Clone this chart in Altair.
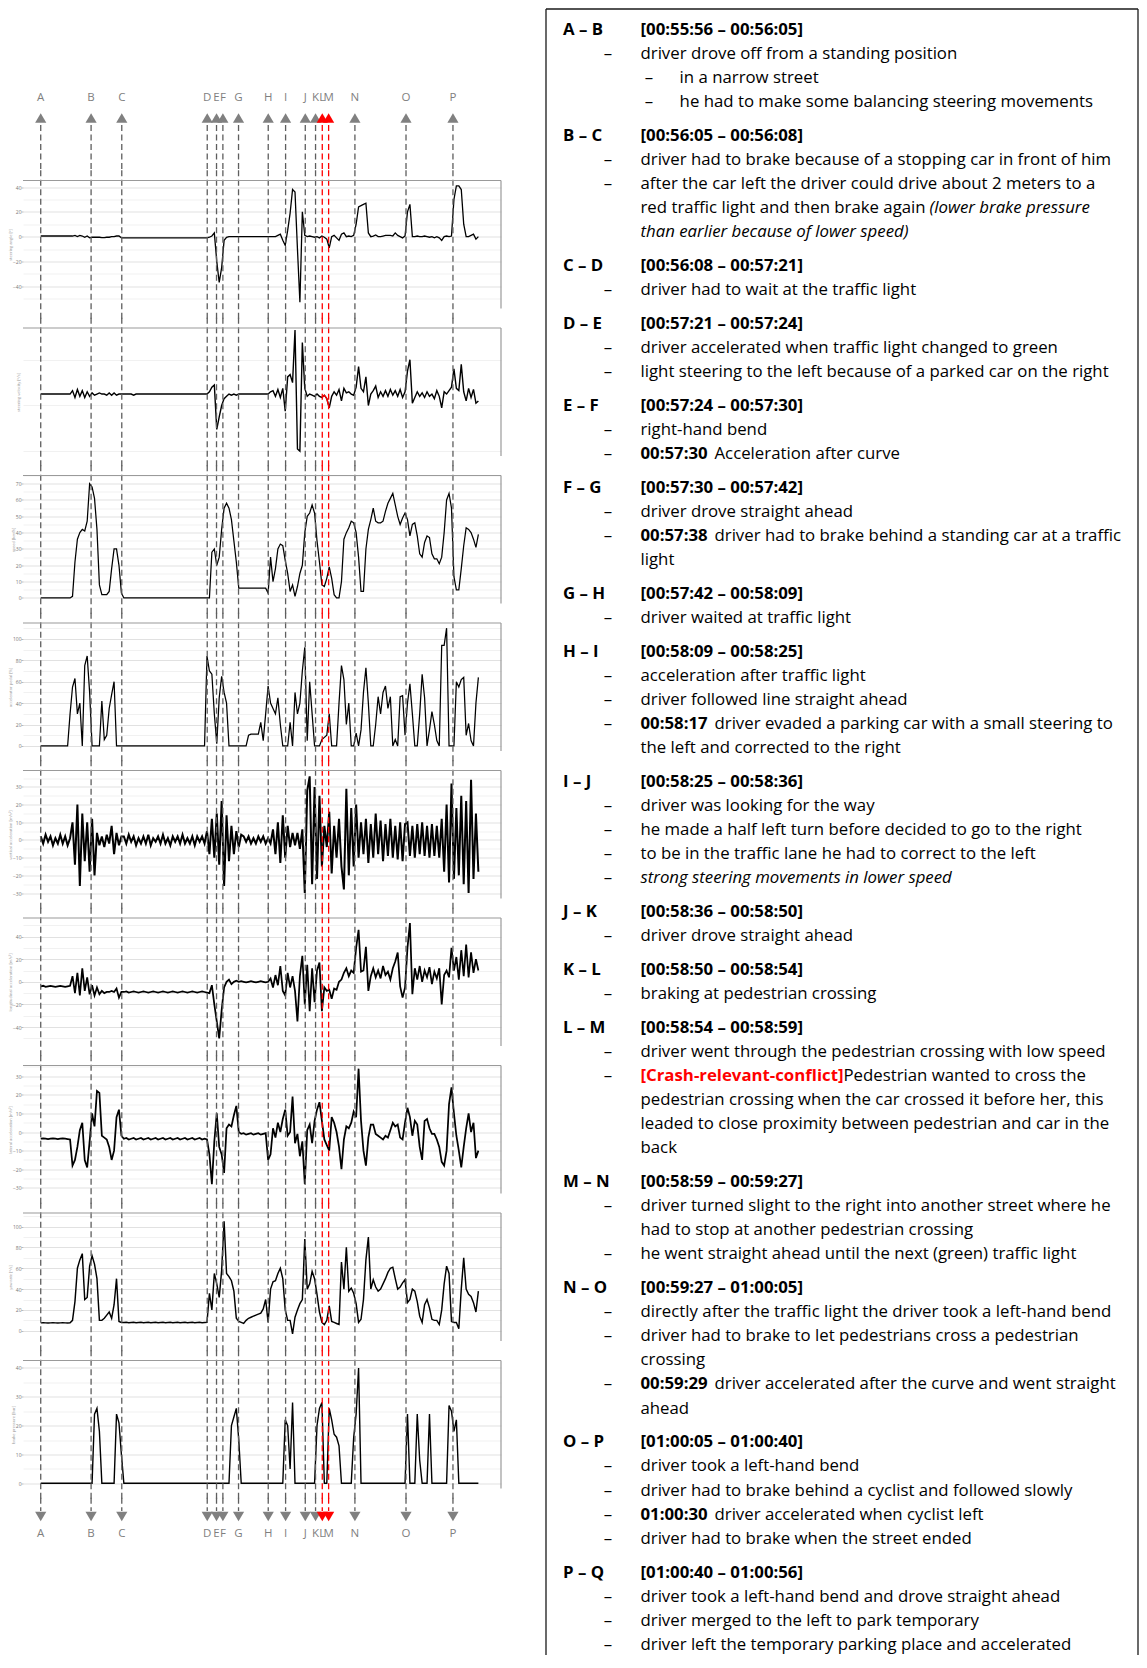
import math
import re
import altair as alt
import pandas as pd

# ------------------------------------------------------------------ data
N_SAMPLES = 180
X_FIRST, X_STEP = 1.5, 2.0            # distance of the samples [m]
X_POS = [X_FIRST + X_STEP * i for i in range(N_SAMPLES)]

MARK_LABELS = ["A", "B", "C", "D", "E", "F", "G", "H", "I", "J", "K", "L", "M", "N", "O", "P"]
MARK_POS = [1.5, 42.7, 67.8, 137.7, 145.3, 150.5, 163.3, 187.6, 201.8, 217.9,
            226.3, 231.8, 237.0, 258.5, 300.3, 338.7]
MARK_RED = ["L", "M"]

X_DOMAIN = [-13, 378]
X_TICKS = [25, 50, 75, 100, 125, 150, 175, 200, 225, 250, 275, 300, 325, 350, 375]

P1 = [0.5, 0.5, 0.5, 0.5, 0.5, 0.5, 0.5, 0.5, 0.5, 0.5, 0.5, 0.5, 0.5, 0.5, 1, 0, 1, 0.5, -0.5, 0.5,
      -1, -0.5, -0.5, -0.5, -0.5, -0.8, -0.8, -0.5, -0.5, 0, 0, 0.5, 0.5, -1, -1, -1, -1, -1, -1, -1,
      -1, -1, -1, -1, -1, -1, -1, -1, -1, -1, -1, -1, -1, -1, -1, -1, -1, -1, -1, -1,
      -1, -1, -1, -1, -1, -1, -1, -1, -1, -0.5, 0.5, 3, -20, -37, -25, -3, -0.5, 0, 0, 0,
      0, 0, 0, 0, 0, 0, 0, 0, 0, 0, 0, 0, 0, 0, 0, 0, 0, 1, 2, -3,
      -7, 5, 19, 38, 36, -10, -53, 20, 1, 0, 0.5, 0, -0.5, 0, -1, 0.5, -0.5, -2, -9, 0,
      1, -1, -3, 2, 3, 0, 0.5, 0, 1, 10, 24, 25, 26, 27, 3, 0, 0.5, 1.3, 0, 0,
      0.5, 1, 1, 1, 0.5, 3, 1, 0, -1, 0.5, 20, 26, 0, 0, 0.5, 0, 0, 0.5, 0, -0.5,
      0, -1, 0, -1, -3, 0, 0.5, 0, 0.5, 30, 41, 41, 38, 10, 0, 0, 1, 2, -2, 0]

P2 = [0, 0, 0, 0, 0, 0, 0, 0, 0, 0, 0, 0, 0, 3, -3, 4, -2, 3, -3, 2,
      -2, 1, -1, 0, 1, 0, 0, -1, 1, -1, 1, -1, 0, 0, 0, 0, 0, 0, -1, 0,
      0, 0, 0, 0, 0, 0, 0, 0, 0, 0, 0, 0, 0, 0, 0, 0, 0, 0, 0, 0,
      0, 0, 0, 0, 0, 0, 0, 0, 0, 2, 6, 8, -31, -20, -10, -4, -2, 0, -1, 0,
      -1, 0, 0, 0, 0, 0, 0, 0, 0, 0, 0, 0, 0, 0, 2, 3, -2, 4, -3, 5,
      -15, 15, 17, 10, 56, -48, -50, 45, 5, -2, 0, -1, -2, 0, -2, -3, -1, -4, -12, -2,
      2, -1, 4, -6, 5, 1, 2, 0, -1, 6, 24, 5, 2, 15, -10, 0, 3, 7, -3, 2,
      -2, 3, -2, 4, -1, 3, -2, 4, -3, 2, 20, 30, -8, -3, 2, -2, 1, -3, 2, -2,
      0, -4, 3, -2, -12, 2, 0, 3, 6, 22, 5, 3, 26, 2, -6, 5, -3, 4, -8, -6]

P3 = [0, 0, 0, 0, 0, 0, 0, 0, 0, 0, 0, 0, 0, 1, 22, 36, 40, 42, 41, 47,
      70, 68, 61, 42, 8, 2, 2, 2, 4, 18, 30, 30, 20, 3, 0, 0, 0, 0, 0, 0,
      0, 0, 0, 0, 0, 0, 0, 0, 0, 0, 0, 0, 0, 0, 0, 0, 0, 0, 0, 0,
      0, 0, 0, 0, 0, 0, 0, 0, 0, 0, 28, 30, 20, 25, 42, 55, 58, 55, 48, 35,
      22, 6, 6, 6, 6, 6, 6, 6, 6, 6, 6, 6, 6, 3, 25, 10, 18, 30, 33, 32,
      23, 15, 4, 8, 1, 7, 15, 20, 40, 50, 52, 57, 52, 35, 22, 8, 7, 12, 19, 12,
      2, 0, 0, 10, 36, 40, 43, 47, 46, 40, 25, 4, 4, 30, 42, 48, 55, 47, 46, 46,
      47, 53, 58, 61, 64, 57, 50, 45, 49, 52, 48, 38, 45, 46, 38, 27, 25, 34, 38, 37,
      27, 24, 24, 21, 25, 40, 60, 64, 55, 13, 5, 5, 18, 32, 43, 42, 40, 36, 31, 39]

P4 = [0, 0, 0, 0, 0, 0, 0, 0, 0, 0, 0, 0, 30, 55, 63, 30, 40, 0, 75, 84,
      50, 0, 0, 0, 0, 42, 6, 10, 35, 48, 60, 0, 0, 0, 0, 0, 0, 0, 0, 0,
      0, 0, 0, 0, 0, 0, 0, 0, 0, 0, 0, 0, 0, 0, 0, 0, 0, 0, 0, 0,
      0, 0, 0, 0, 0, 0, 0, 0, 84, 70, 67, 30, 2, 45, 65, 50, 40, 0, 0, 0,
      0, 0, 0, 0, 0, 10, 11, 11, 11, 11, 22, 5, 30, 56, 40, 35, 30, 45, 20, 0,
      0, 0, 22, 0, 50, 30, 40, 70, 92, 5, 60, 30, 0, 0, 0, 6, 8, 10, 30, 0,
      0, 0, 40, 75, 62, 20, 40, 0, 0, 12, 0, 15, 50, 73, 40, 0, 0, 20, 46, 30,
      50, 56, 35, 46, 0, 6, 0, 46, 47, 10, 40, 58, 30, 0, 0, 30, 67, 45, 0, 15,
      32, 20, 5, 0, 94, 94, 110, 0, 0, 0, 60, 55, 62, 64, 10, 21, 5, 0, 40, 64]

P5 = [2, -2, 3, -1, 2, -3, 1, -2, 3, -2, 2, -3, 1,
      10, -14, 20, -26, 15, -12, 10, -18, 12, -20,
      4, -3, 2, -4, 3, -2, 8, -8, 4, -3, 2,
      2, -2, 3, -1, 2, -3, 1, -2, 2, -2, 3, -3, 1, -1, 2, -2, 3, -2, 1, -3, 2, -1, 2, -2, 3, -2, 1, -2, 2, -3, 2, -1, 2, -2,
      5, -8, 12, -10, 15, -14, 22, -26, 14, -12, 8, -8, 5, -4, 3,
      2, -1, 2, -2, 1, -2, 2, -1, 2, -2, 1, -2,
      6, -8, 10, -13, 14, -10, 8,
      -4, 4, -3, 4, -5, 6,
      -30, 28, 36, -25, 30, -22, 25, -15, 8,
      -4, 16, -19,
      8, -10, 12, -15, -28, 29, -20, 18, -15, 20, -10,
      10, -8, 12, -13, 9, -10, 15, -8, 11, -12, 9, -9, 12, -10, 8, -11, 10, -12, 9,
      10, -9, 8, -10, 9, -8, 10, -9, 8, -10, 9, -9, 8, -10, 12,
      -18, 20, -24, 32, -22, 18, -20, 25,
      -25, 22, -30, 34, -22, 15, -18]

P6 = [-4, -3.5, -4.5, -4, -3.5, -4, -4.5, -4, -3.5, -4, -4.5, -4, -3.5,
      5, -10, 8, -12, 12, -8, 4, -11,
      -3, -12, -5, -11,
      -8, -10, -9, -9, -8, -9, -6, -14, -9,
      -9, -8.5, -9.5, -9, -8.5, -9, -9.5, -9, -8.5, -9, -9.5, -9, -8.5, -9, -9.5, -9, -8.5, -9,
      -9.5, -9, -8.5, -9, -9.5, -9, -8.5, -9, -9.5, -9, -8.5, -9, -9.5, -9, -8.5, -9, -9.5,
      -10, -3, -20, -35, -50, -25, -5, 0, 2, -2, 0, 1,
      0, 0.5, 0, -0.5, 0, 0.5, 0, -0.5, 0, 0.5, 0, -0.5,
      0, 3, -5, 6, -3, 14, -8, -12, 8, -5, 5, -8, -35, 5, 23,
      -20, 15, -26, 12, -18, 10, 17, -26, -5, -8,
      -7, -15, -6, -7,
      0, 2, 8, 12, 5, 10, 8,
      30, 46, 9, 10, 31, -8, 5,
      12, 4, 10, 3, 14, 6, 9, 2, 12, 18, 26, -4, -14, -5,
      30, 52, -11,
      12, 2, 14, 0, 10, 4, 13, -2, 9, 3, 12,
      -20, 6, 10, 4,
      30, 10, 22, 2, 28, 5, 33, 4, 26, 8, 20, 10]

P7 = [-3.6, -3.4, -3.6, -3.8, -3.6, -3.4, -3.6, -3.8, -3.6, -3.4, -3.6, -3.8,
      -4, -18, -15, -8, 1, 5, -15, -19, -5, 10, 3, 22, 21, -2, -3, -4, -8, -15, -10, 8, 12, -2,
      -3.6, -3.2, -4, -3.6, -3.2, -4, -3.6, -3.2, -4, -3.6, -3.2, -4, -3.6, -3.2, -4, -3.6, -3.2,
      -4, -3.6, -3.2, -4, -3.6, -3.2, -4, -3.6, -3.2, -4, -3.6, -3.2, -4, -3.6, -3.2, -4, -3.6,
      -4, -12, -28, -5, 10, -8, -12, -22, 2, 4, 3, 9, 14, 0,
      -1, -0.6, -1.4, -1, -0.6, -1.4, -1, -0.6, -1.4, -1, -0.6,
      -15, -12, 2, -3, 5, 0, 7, 12, -2, 0,
      19, -6, -1, -13, -5, -28, 1, 4, -6, 6,
      12, 16, 6, -4, -7, -10, 8, 5, 0, -8,
      -20, -4, 3, 2, 5, 11, 8, 34, 6, -10,
      -18, -3, 4, 4, -1, -2, -3, -4, -2, -3,
      1, 5, 3, 4, -3, -4, 5, 13, 8, -2,
      6, 4, -8, -15, 6, 7, 2, -1, -1, -4,
      -8, -16, -18, -10, 15, 24, 10, -2, -10, -19,
      -8, 2, 10, 0, 5, -14, -10]

P8 = [7.6, 7.8, 7.6, 7.4, 7.6, 7.8, 7.6, 7.4, 7.6, 7.8, 7.6, 7.4, 7.6,
      10, 28, 60, 68, 74, 30, 32, 62, 72, 64, 50, 10, 10, 12, 15, 18, 12, 25, 50, 9, 8,
      8, 8.2, 7.8, 8, 8.2, 7.8, 8, 8.2, 7.8, 8, 8.2, 7.8, 8, 8.2, 7.8, 8, 8.2, 7.8,
      8, 8.2, 7.8, 8, 8.2, 7.8, 8, 8.2, 7.8, 8, 8.2, 7.8, 8, 8.2, 7.8, 8, 8.2,
      36, 20, 55, 45, 32, 58, 105, 55, 52, 48,
      38, 12, 9, 8, 7, 10, 12, 13, 14, 15,
      16, 17, 21, 30, 8, 40, 47, 48, 55, 60,
      50, 20, 10, 10, -3, 13, 20, 26, 30, 88,
      40, 45, 57, 50, 35, 18, 8, 6, 10, 24,
      9, 8, 7, 6, 66, 40, 80, 38, 41, 36,
      26, 8, 11, 30, 68, 90, 40, 49, 42, 38,
      40, 45, 50, 56, 60, 61, 50, 40, 42, 46,
      49, 27, 30, 40, 38, 28, 14, 8, 25, 30,
      22, 11, 10, 10, 6, 20, 45, 62, 55, 9,
      8, 8, 2, 40, 70, 40, 35, 33, 27, 18,
      38]

P9 = [0, 0, 0, 0, 0, 0, 0, 0, 0, 0, 0, 0, 0, 0, 0, 0, 0, 0, 0, 0,
      0, 0, 24, 26, 18, 0, 0, 0, 0, 0, 0, 24, 21, 10, 0, 0, 0, 0, 0, 0,
      0, 0, 0, 0, 0, 0, 0, 0, 0, 0, 0, 0, 0, 0, 0, 0, 0, 0, 0, 0,
      0, 0, 0, 0, 0, 0, 0, 0, 0, 0, 0, 0, 0, 0, 0, 0, 0, 0, 20, 23,
      26, 15, 0, 0, 0, 0, 0, 0, 0, 0, 0, 0, 0, 0, 0, 0, 0, 0, 0, 0,
      22, 20, 5, 28, 0, 0, 0, 0, 0, 0, 0, 0, 0, 20, 26, 28, 0, 0, 26, 22,
      17, 16, 13, 0, 0, 0, 0, 0, 16, 24, 40, 0, 0, 0, 0, 0, 0, 0, 0, 0,
      0, 0, 0, 0, 0, 0, 0, 0, 0, 0, 24, 0, 0, 0, 24, 8, 0, 0, 0, 24,
      0, 0, 0, 0, 0, 0, 0, 27, 25, 18, 22, 0, 0, 0, 0, 0, 0, 0, 0, 0]

PANEL_SERIES = [P1, P2, P3, P4, P5, P6, P7, P8, P9]
PANEL_TITLES = ["steering angle [°]", "steering velocity [°/s]", "speed [km/h]",
                "accelerator pedal [%]", "vertical acceleration [m/s²]",
                "longitudinal acceleration [m/s²]", "lateral acceleration [m/s²]",
                "yaw rate [°/s]", "brake pressure [bar]"]
PANEL_DOMAINS = [[-58, 45.3], [-54.2, 57.8], [-3.4, 75], [-4.7, 114.8], [-33.1, 39.3],
                 [-56.8, 56.5], [-33, 35.7], [-9.8, 113], [-1.8, 42.6]]
PANEL_STEPS = [20, 20, 10, 20, 10, 20, 10, 20, 10]
HIGHLIGHT_PANEL, HIGHLIGHT_FROM, HIGHLIGHT_TO = 1, 115, 118   # red part between K and M

SECTIONS = [
    ("A – B", "[00:55:56 – 00:56:05]", [
        (1, ["driver drove off from a standing position"]),
        (2, ["in a narrow street"]),
        (2, ["he had to make some balancing steering movements"]),
    ]),
    ("B – C", "[00:56:05 – 00:56:08]", [
        (1, ["driver had to brake because of a stopping car in front of him"]),
        (1, ["after the car left the driver could drive about 2 meters to a",
             "red traffic light and then brake again *(lower brake pressure*",
             "*than earlier because of lower speed)*"]),
    ]),
    ("C – D", "[00:56:08 – 00:57:21]", [
        (1, ["driver had to wait at the traffic light"]),
    ]),
    ("D – E", "[00:57:21 – 00:57:24]", [
        (1, ["driver accelerated when traffic light changed to green"]),
        (1, ["light steering to the left because of a parked car on the right"]),
    ]),
    ("E – F", "[00:57:24 – 00:57:30]", [
        (1, ["right-hand bend"]),
        (1, ["**00:57:30** Acceleration after curve"]),
    ]),
    ("F – G", "[00:57:30 – 00:57:42]", [
        (1, ["driver drove straight ahead"]),
        (1, ["**00:57:38** driver had to brake behind a standing car at a traffic", "light"]),
    ]),
    ("G – H", "[00:57:42 – 00:58:09]", [
        (1, ["driver waited at traffic light"]),
    ]),
    ("H – I", "[00:58:09 – 00:58:25]", [
        (1, ["acceleration after traffic light"]),
        (1, ["driver followed line straight ahead"]),
        (1, ["**00:58:17** driver evaded a parking car with a small steering to",
             "the left and corrected to the right"]),
    ]),
    ("I – J", "[00:58:25 – 00:58:36]", [
        (1, ["driver was looking for the way"]),
        (1, ["he made a half left turn before decided to go to the right"]),
        (1, ["to be in the traffic lane he had to correct to the left"]),
        (1, ["*strong steering movements in lower speed*"]),
    ]),
    ("J – K", "[00:58:36 – 00:58:50]", [
        (1, ["driver drove straight ahead"]),
    ]),
    ("K – L", "[00:58:50 – 00:58:54]", [
        (1, ["braking at pedestrian crossing"]),
    ]),
    ("L – M", "[00:58:54 – 00:58:59]", [
        (1, ["driver went through the pedestrian crossing with low speed"]),
        (1, ["!![Crash-relevant-conflict]!!Pedestrian wanted to cross the",
             "pedestrian crossing when the car crossed it before her, this",
             "leaded to close proximity between pedestrian and car in the",
             "back"]),
    ]),
    ("M – N", "[00:58:59 – 00:59:27]", [
        (1, ["driver turned slight to the right into another street where he",
             "had to stop at another pedestrian crossing"]),
        (1, ["he went straight ahead until the next (green) traffic light"]),
    ]),
    ("N – O", "[00:59:27 – 01:00:05]", [
        (1, ["directly after the traffic light the driver took a left-hand bend"]),
        (1, ["driver had to brake to let pedestrians cross a pedestrian", "crossing"]),
        (1, ["**00:59:29** driver accelerated after the curve and went straight", "ahead"]),
    ]),
    ("O – P", "[01:00:05 – 01:00:40]", [
        (1, ["driver took a left-hand bend"]),
        (1, ["driver had to brake behind a cyclist and followed slowly"]),
        (1, ["**01:00:30** driver accelerated when cyclist left"]),
        (1, ["driver had to brake when the street ended"]),
    ]),
    ("P – Q", "[01:00:40 – 01:00:56]", [
        (1, ["driver took a left-hand bend and drove straight ahead"]),
        (1, ["driver merged to the left to park temporary"]),
        (1, ["driver left the temporary parking place and accelerated"]),
    ]),
]

for s in PANEL_SERIES:
    assert len(s) == N_SAMPLES, len(s)

# ------------------------------------------------------------------ layout / style
FONT = "Open Sans"
PANEL_W, PANEL_H, PANEL_GAP = 478, 128, 19.5
TOP_H, BOTTOM_H = 152, 36
PANEL_STROKE = [1.3, 1.4, 1.25, 1.25, 2.0, 1.75, 1.75, 1.45, 1.4]
RULE_GREY, TRI_GREY, LETTER_GREY, RED = "#5e5e5e", "#808080", "#7f7f7f", "#ff0000"
GRID_MAJOR, GRID_MINOR, FRAME = "#e1e1e1", "#f1f1f1", "#9a9a9a"
DASH = [6, 3.5]

BOX_W, BOX_H = 592, 1646
TXT_SIZE = 16.8
X_LABEL, X_DASH1, X_TEXT1, X_DASH2, X_TEXT2 = 17, 62, 94.5, 103, 133.6
LINE_H, SEC_GAP, TXT_Y0 = 24.07, 9.8, 20.5
CONT_OFFSET = {"00:57:30": 74, "00:57:38": 74, "00:58:17": 74, "00:59:29": 74, "01:00:30": 74,
               "[Crash-relevant-conflict]": 203, "red traffic light and then brake again": 289}

x_scale = alt.Scale(domain=X_DOMAIN, nice=False, zero=False)
markers = pd.DataFrame({"label": MARK_LABELS, "pos": MARK_POS,
                        "red": [m in MARK_RED for m in MARK_LABELS]})
x_mark = alt.X("pos:Q", scale=x_scale, axis=None)
rule_color = alt.condition("datum.red", alt.value(RED), alt.value(RULE_GREY))
tri_color = alt.condition("datum.red", alt.value(RED), alt.value(TRI_GREY))


def cond(test, a, b):
    return {"condition": {"test": test, "value": a}, "value": b}


def marker_rules(y_from, y_to):
    return alt.Chart(markers).mark_rule(strokeDash=DASH, strokeWidth=1.3).encode(
        x=x_mark, y=alt.value(y_from), y2=alt.value(y_to), color=rule_color)


def frame(w, h):
    one = pd.DataFrame({"k": [0]})
    top = alt.Chart(one).mark_rule(color=FRAME, strokeWidth=1.2).encode(
        x=alt.value(0), x2=alt.value(w), y=alt.value(0))
    right = alt.Chart(one).mark_rule(color=FRAME, strokeWidth=1.2).encode(
        x=alt.value(w), y=alt.value(0), y2=alt.value(h))
    return [top, right]


def panel(k):
    vals, dom, step, title = PANEL_SERIES[k], PANEL_DOMAINS[k], PANEL_STEPS[k], PANEL_TITLES[k]
    df = pd.DataFrame({"x": X_POS, "y": vals, "i": list(range(N_SAMPLES))})
    half = step / 2
    yt = [half * j for j in range(math.ceil(dom[0] / half), math.floor(dom[1] / half) + 1)]
    major_x = "abs(datum.value % 50) < 0.001"
    major_y = f"abs(datum.value % {step}) < 0.001"
    x_axis = alt.Axis(values=X_TICKS, grid=True, gridColor=cond(major_x, GRID_MAJOR, GRID_MINOR),
                      gridWidth=1, ticks=True, tickSize=2,
                      tickColor=cond(major_x, FRAME, "transparent"),
                      domainColor=FRAME, domainWidth=1.3, labels=(k == len(PANEL_SERIES) - 1),
                      labelExpr=f"{major_x} ? datum.label : ''", labelFontSize=5,
                      labelColor="#777777", labelPadding=1, labelFont=FONT, title=None)
    y_axis = alt.Axis(values=yt, grid=True, gridColor=cond(major_y, GRID_MAJOR, GRID_MINOR),
                      gridWidth=1, ticks=True, tickSize=2,
                      tickColor=cond(major_y, "#bbbbbb", "transparent"), domain=False,
                      labelExpr=f"{major_y} ? datum.label : ''", labelFontSize=5,
                      labelColor="#777777", labelPadding=0, labelFont=FONT,
                      title=title, titleFontSize=4, titleColor="#999999",
                      titleFontWeight="normal", titleFont=FONT, titlePadding=0)
    y_scale = alt.Scale(domain=dom, nice=False, zero=False)
    layers = [alt.Chart(df).mark_line(color="black", strokeWidth=PANEL_STROKE[k], clip=True).encode(
        x=alt.X("x:Q", scale=x_scale, axis=x_axis),
        y=alt.Y("y:Q", scale=y_scale, axis=y_axis))]
    if k == HIGHLIGHT_PANEL:
        layers.append(alt.Chart(df).transform_filter(
            f"datum.i >= {HIGHLIGHT_FROM} && datum.i <= {HIGHLIGHT_TO}"
        ).mark_line(color=RED, strokeWidth=1.4).encode(
            x=alt.X("x:Q", scale=x_scale), y=alt.Y("y:Q", scale=y_scale)))
    layers.append(marker_rules(-PANEL_GAP / 2 - 0.5, PANEL_H + PANEL_GAP / 2 + 0.5))
    layers += frame(PANEL_W, PANEL_H)
    return alt.layer(*layers).properties(width=PANEL_W, height=PANEL_H)


top = alt.layer(
    marker_rules(116, TOP_H + PANEL_GAP / 2 + 0.5),
    alt.Chart(markers).mark_point(shape="triangle-up", filled=True, size=125, opacity=1).encode(
        x=x_mark, y=alt.value(109), color=tri_color),
    alt.Chart(markers).mark_text(font=FONT, fontSize=11.5, color=LETTER_GREY, baseline="middle").encode(
        x=x_mark, y=alt.value(88.5), text="label:N"),
).properties(width=PANEL_W, height=TOP_H)

bottom = alt.layer(
    marker_rules(-PANEL_GAP / 2 - 0.5, 3),
    alt.Chart(markers).mark_point(shape="triangle-down", filled=True, size=125, opacity=1).encode(
        x=x_mark, y=alt.value(8.5), color=tri_color),
    alt.Chart(markers).mark_text(font=FONT, fontSize=11.5, color=LETTER_GREY, baseline="middle").encode(
        x=x_mark, y=alt.value(25.5), text="label:N"),
).properties(width=PANEL_W, height=BOTTOM_H)

left = alt.vconcat(top, *[panel(k) for k in range(len(PANEL_SERIES))], bottom,
                   spacing=PANEL_GAP, bounds="flush")

# ------------------------------------------------------------------ text box
SEG_RE = re.compile(r"(\*\*.+?\*\*|!!.+?!!|\*.+?\*)")


def segments(line):
    out = []
    for part in SEG_RE.split(line):
        if not part:
            continue
        if part.startswith("**"):
            out.append((part[2:-2].strip(), "bold"))
        elif part.startswith("!!"):
            out.append((part[2:-2].strip(), "red"))
        elif part.startswith("*"):
            out.append((part[1:-1].strip(), "italic"))
        else:
            if part.strip():
                out.append((part.strip(), "normal"))
    return out


rows = []
line_no = 0
for s, (lab, rng, items) in enumerate(SECTIONS):
    py = TXT_Y0 + line_no * LINE_H + s * SEC_GAP
    rows.append(dict(t=lab, style="bold", px=X_LABEL, py=py))
    rows.append(dict(t=rng, style="bold", px=X_TEXT1, py=py))
    line_no += 1
    for level, lines in items:
        for j, ln in enumerate(lines):
            py = TXT_Y0 + line_no * LINE_H + s * SEC_GAP
            xt = X_TEXT1 if level == 1 else X_TEXT2
            if j == 0:
                rows.append(dict(t="–", style="dash", px=X_DASH1 if level == 1 else X_DASH2, py=py))
            x = xt
            for txt, st in segments(ln):
                rows.append(dict(t=txt, style=st, px=x, py=py))
                x = xt + CONT_OFFSET.get(txt, len(txt) * 8.0)
            line_no += 1

text_df = pd.DataFrame(rows)
STYLES = {
    "normal": dict(fontWeight="normal", fontStyle="normal", color="#000000", align="left"),
    "bold": dict(fontWeight="bold", fontStyle="normal", color="#000000", align="left"),
    "italic": dict(fontWeight="normal", fontStyle="italic", color="#000000", align="left"),
    "red": dict(fontWeight="bold", fontStyle="normal", color=RED, align="left"),
    "dash": dict(fontWeight="normal", fontStyle="normal", color="#000000", align="center"),
}
text_layers = []
for st, kw in STYLES.items():
    text_layers.append(
        alt.Chart(text_df[text_df["style"] == st]).mark_text(
            font=FONT, fontSize=TXT_SIZE, baseline="middle", **kw
        ).encode(x=alt.X("px:Q", scale=None, axis=None),
                 y=alt.Y("py:Q", scale=None, axis=None),
                 text="t:N"))

one = pd.DataFrame({"k": [0]})
box = [
    alt.Chart(one).mark_rule(color="#1a1a1a", strokeWidth=1.3).encode(
        x=alt.value(0), x2=alt.value(BOX_W), y=alt.value(0)),
    alt.Chart(one).mark_rule(color="#1a1a1a", strokeWidth=1.3).encode(
        x=alt.value(0), y=alt.value(0), y2=alt.value(BOX_H)),
    alt.Chart(one).mark_rule(color="#1a1a1a", strokeWidth=1.3).encode(
        x=alt.value(BOX_W), y=alt.value(0), y2=alt.value(BOX_H)),
]
right = alt.layer(*box, *text_layers).properties(width=BOX_W, height=BOX_H)

chart = alt.hconcat(left, right, spacing=43).properties(padding=0).configure_view(stroke=None)
chart.save("out.html", embed_options={"renderer": "svg", "actions": False})
